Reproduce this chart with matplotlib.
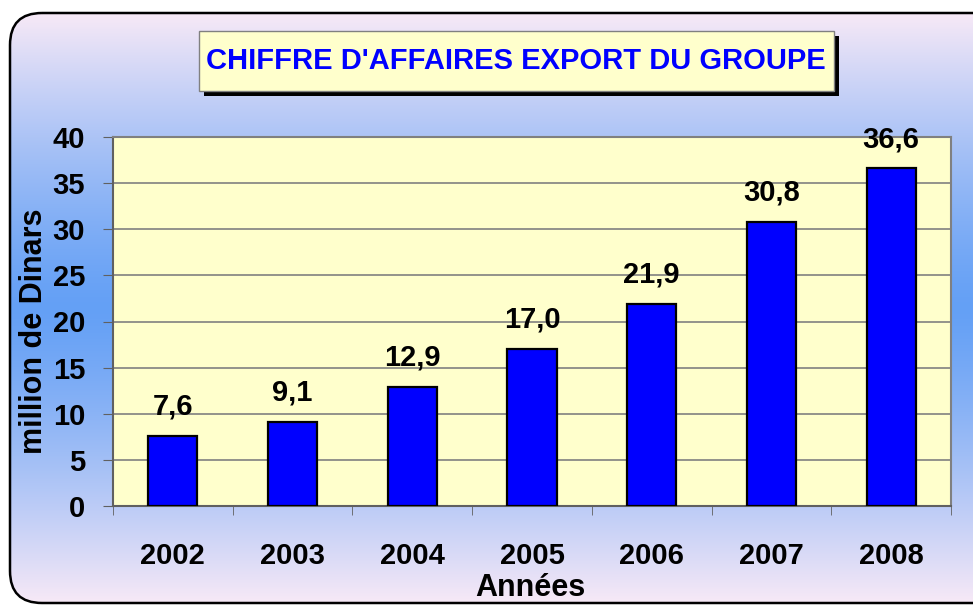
import numpy as np
import matplotlib
matplotlib.use("Agg")
import matplotlib.pyplot as plt
from matplotlib.patches import FancyBboxPatch, Rectangle

plt.rcParams['font.family'] = ['Liberation Sans', 'DejaVu Sans']

# données
annees = ['2002', '2003', '2004', '2005', '2006', '2007', '2008']
valeurs = [7.6, 9.1, 12.9, 17.0, 21.9, 30.8, 36.6]
etiquettes = ['7,6', '9,1', '12,9', '17,0', '21,9', '30,8', '36,6']
titre = "CHIFFRE D'AFFAIRES EXPORT DU GROUPE"

W, H = 973, 607
fig = plt.figure(figsize=(W / 100, H / 100), dpi=100)
fig.patch.set_facecolor('white')

# fond en dégradé dans un cadre arrondi (coordonnées pixels)
bg = fig.add_axes([0, 0, 1, 1])
bg.set_xlim(0, W)
bg.set_ylim(H, 0)
bg.axis('off')

ys = np.linspace(0, 1, 300)
pink = np.array([247, 233, 247]) / 255
blue = np.array([100, 160, 245]) / 255
d = np.abs(ys - 0.5) / 0.5
t = np.clip(d, 0, 1) ** 1.3
grad = (1 - t)[:, None] * blue + t[:, None] * pink
img = np.repeat(grad[:, None, :], 2, axis=1)

cadre = FancyBboxPatch((10, 13), 1000, 590, boxstyle="round,pad=0,rounding_size=32",
                       facecolor='none', edgecolor='black', lw=1.8, zorder=3)
bg.add_patch(cadre)
im = bg.imshow(img, extent=(10, 1010, 603, 13), aspect='auto', zorder=1)
im.set_clip_path(cadre)

# titre avec ombre
bg.add_patch(Rectangle((204, 36), 635, 60, facecolor='black', zorder=4))
bg.add_patch(Rectangle((199, 31), 635, 60, facecolor='#ffffcc', edgecolor='#808080', lw=1, zorder=5))
bg.text(516, 61, titre, ha='center', va='center', color='#0000ff', fontsize=21,
        fontweight='bold', zorder=6)

# graphique
ax = fig.add_axes([113 / W, 1 - 506 / H, (951 - 113) / W, (506 - 137) / H])
ax.set_facecolor('#ffffcc')
x = np.arange(len(annees))
ax.bar(x, valeurs, width=0.41, color='#0000ff', edgecolor='black', lw=1.6, zorder=3)

for xi, v, lab in zip(x, valeurs, etiquettes):
    ax.text(xi, v + 2.3, lab, ha='center', va='baseline', fontsize=21, fontweight='bold')

ax.set_xlim(-0.5, len(annees) - 0.5)
ax.set_ylim(0, 40)
ax.set_yticks(range(0, 41, 5))
ax.yaxis.grid(True, color='#808080', lw=1.2, zorder=1)
ax.set_axisbelow(True)

ax.set_xticks(x)
ax.set_xticklabels(annees, fontsize=21, fontweight='bold')
ax.set_xticks(np.arange(-0.5, len(annees)), minor=True)
ax.tick_params(axis='x', which='major', length=0, pad=26)
ax.tick_params(axis='x', which='minor', length=6.5, color='#606060', direction='out')
ax.tick_params(axis='y', length=7, color='#606060', pad=13, labelsize=21)
for lab in ax.get_yticklabels():
    lab.set_fontweight('bold')

for s in ax.spines.values():
    s.set_color('#808080')
    s.set_linewidth(1.5)
ax.spines['bottom'].set_color('#606060')
ax.spines['left'].set_color('#606060')

ax.set_ylabel('million de Dinars', fontsize=22, fontweight='bold')
ax.yaxis.set_label_coords(34 / W, 1 - 331 / H, transform=fig.transFigure)
ax.yaxis.label.set_va('center')
ax.set_xlabel('Années', fontsize=22, fontweight='bold')
ax.xaxis.set_label_coords(530 / W, 1 - 588 / H, transform=fig.transFigure)
ax.xaxis.label.set_va('center')

fig.savefig('out.png', dpi=100)
